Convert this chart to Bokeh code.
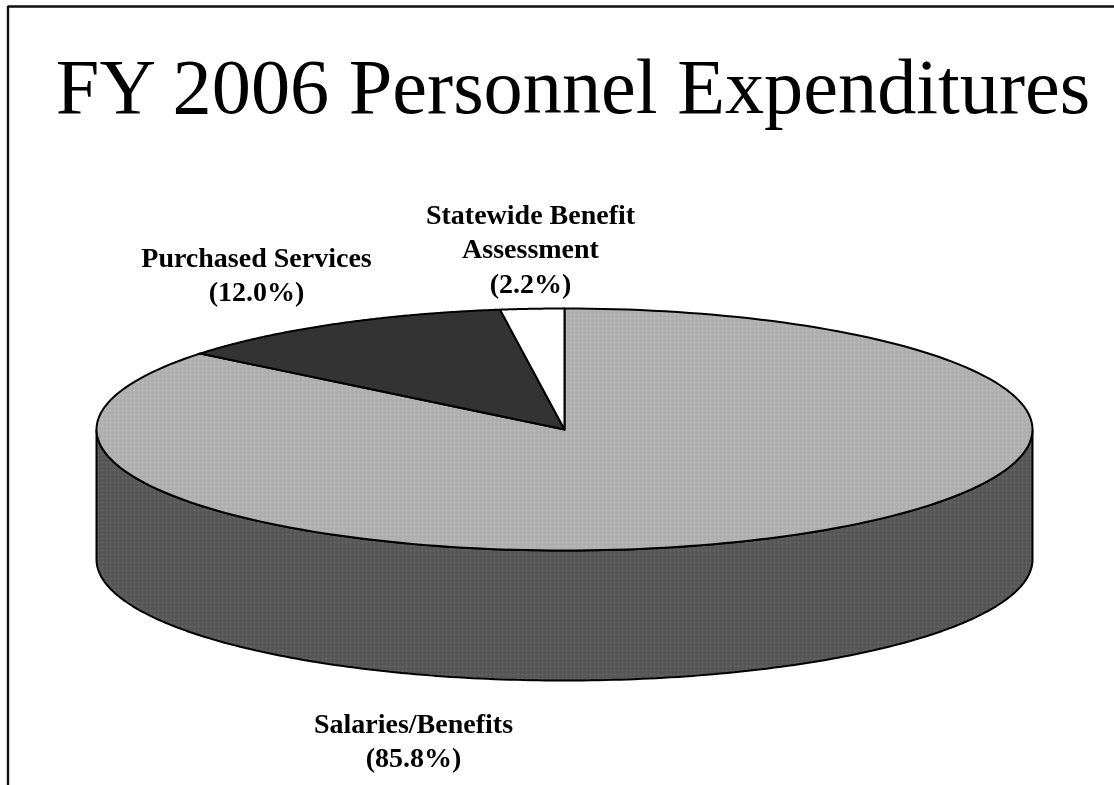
import numpy as np
from bokeh.plotting import figure
from bokeh.models import Range1d
from bokeh.core.properties import value
from bokeh.embed import file_html
from bokeh.resources import INLINE

title = "FY 2006 Personnel Expenditures"
categories = ["Salaries/Benefits", "Purchased Services", "Statewide Benefit Assessment"]
shares = [85.8, 12.0, 2.2]
colors = ["#aeaeae", "#333333", "#ffffff"]
hatch_colors = ["#bcbcbc", None, None]
label_lines = [["Salaries/Benefits", "(85.8%)"],
               ["Purchased Services", "(12.0%)"],
               ["Statewide Benefit", "Assessment", "(2.2%)"]]
label_x = [413, 256, 530]
label_base = [723, 257, 214]
LINE = 34.3
CX, CY, RX, RY, DEPTH = 564, 429, 468, 121, 130

p = figure(width=1114, height=785, output_backend="svg", toolbar_location=None,
           x_range=Range1d(0, 1114), y_range=Range1d(785, 0),
           x_axis_type="linear", min_border=0, outline_line_color=None,
           background_fill_color="white", border_fill_color="white")
p.axis.visible = False
p.grid.visible = False
p.styles = {"position": "fixed", "left": "0px", "top": "0px"}


def arc(a0, a1, cy=CY, n=200):
    t = np.radians(np.linspace(a0, a1, n))
    return CX + RX * np.sin(t), cy - RY * np.cos(t)


# frame open at the right and at the bottom
p.line([7.5, 7.5, 1114], [785, 6, 6], line_color="#111111", line_width=2.4)

# side wall
x0, y0 = arc(90, 270)
p.patch(np.r_[x0, x0[::-1]], np.r_[y0, y0[::-1] + DEPTH],
        fill_color="#565656", line_color="black", line_width=2,
        hatch_pattern=".", hatch_color="#666666", hatch_scale=4, hatch_weight=1)

# top slices, clockwise from twelve o'clock
start = 0.0
for share, color, hc in zip(shares, colors, hatch_colors):
    end = start + share * 3.6
    ax, ay = arc(start, end)
    kw = dict(hatch_pattern=".", hatch_color=hc, hatch_scale=4, hatch_weight=1) if hc else {}
    p.patch(np.r_[CX, ax], np.r_[CY, ay], fill_color=color,
            line_color="black", line_width=2, line_join="round", **kw)
    start = end

p.text([574], [86], text=[title], text_font=value("Liberation Serif"),
       text_font_size="78.3px", text_align="center", text_baseline="alphabetic", text_color="black")

for lines, x, base in zip(label_lines, label_x, label_base):
    for i, line in enumerate(lines):
        p.text([x], [base + i * LINE], text=[line], text_font=value("Liberation Serif"),
               text_font_style="bold", text_font_size="28px", text_align="center",
               text_baseline="alphabetic", text_color="black")

open("out.html", "w").write(file_html(p, INLINE))
